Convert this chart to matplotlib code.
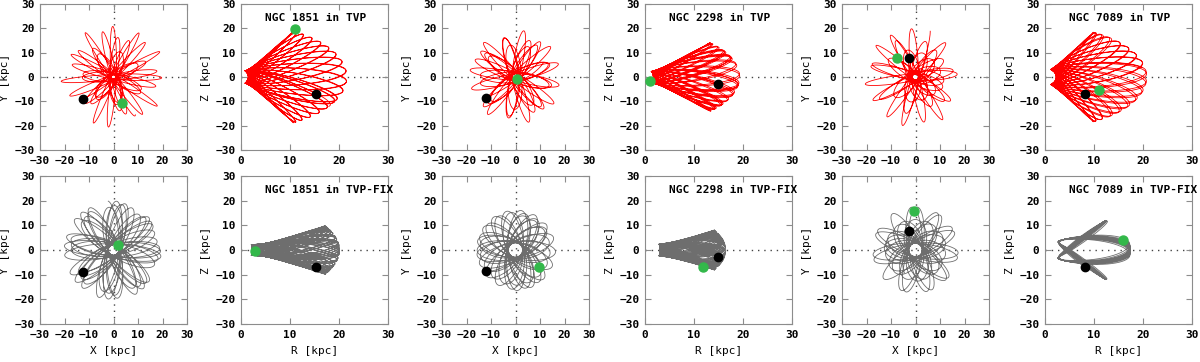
import numpy as np
import matplotlib

matplotlib.use("Agg")
from matplotlib import pyplot as plt

plt.rcParams["font.family"] = ["DejaVu Sans Mono"]
plt.rcParams["font.weight"] = "bold"

# --- data ------------------------------------------------------------------
cluster_names = ["NGC 1851", "NGC 2298", "NGC 7089"]
potentials = ["TVP", "TVP-FIX"]

# present-day positions (black dots), kpc
start_x = [-12.5, -12.2, -2.8]
start_y = [-9.0, -8.5, 7.7]
start_z = [-7.0, -2.7, -7.0]

# end of the orbit (green dots), kpc, one list per potential
end_x = {"TVP": [3.5, 0.5, -7.5], "TVP-FIX": [2.0, 9.5, -0.5]}
end_y = {"TVP": [-10.5, -0.8, 8.0], "TVP-FIX": [2.0, -7.0, 16.0]}
end_z = {"TVP": [19.8, -1.8, -5.3], "TVP-FIX": [-0.5, -7.0, 4.0]}

# orbit shape estimated from the panels
apo = {"TVP": [21.5, 19.0, 21.0], "TVP-FIX": [20.0, 16.0, 18.0]}  # kpc
peri = {"TVP": [2.5, 3.0, 2.5], "TVP-FIX": [2.5, 4.0, 3.0]}  # kpc
incl = {"TVP": [72.0, 65.0, 66.0], "TVP-FIX": [40.0, 45.0, 45.0]}  # deg
t_int = {"TVP": [10.0, 9.0, 9.0], "TVP-FIX": [12.0, 9.0, 9.0]}  # Gyr
halo_q = {"TVP": 1.0, "TVP-FIX": 0.9}  # halo flattening of each potential

line_colors = {"TVP": "#ff0000", "TVP-FIX": "#6e6e6e"}

# --- simple Galactic potential (kpc, km/s, Msun) ----------------------------
G = 4.30091e-6
MB, BB = 1.4e10, 0.5  # Plummer bulge
MD, AD, BD = 6.8e10, 3.5, 0.28  # Miyamoto-Nagai disc
V0, RC = 200.0, 12.0  # logarithmic halo
GYR = 0.9778  # one kpc/(km/s) in Gyr


def potential(x, y, z, q):
    r2 = x * x + y * y + z * z
    zeta = np.sqrt(z * z + BD**2)
    pb = -G * MB / np.sqrt(r2 + BB**2)
    pd = -G * MD / np.sqrt(x * x + y * y + (AD + zeta) ** 2)
    ph = 0.5 * V0**2 * np.log(x * x + y * y + z * z / q**2 + RC**2)
    return pb + pd + ph


def accel(x, y, z, q):
    r2 = x * x + y * y + z * z
    fb = -G * MB / (r2 + BB**2) ** 1.5
    zeta = np.sqrt(z * z + BD**2)
    fd = -G * MD / (x * x + y * y + (AD + zeta) ** 2) ** 1.5
    fh = -(V0**2) / (x * x + y * y + z * z / q**2 + RC**2)
    ax = (fb + fd + fh) * x
    ay = (fb + fd + fh) * y
    az = (fb + fh / q**2) * z + fd * z * (AD + zeta) / zeta
    return ax, ay, az


def initial_velocity(x0, y0, z0, ra, rp, inc, q):
    """Velocity at (x0,y0,z0) giving roughly the wanted apo/peri/inclination."""
    lam = np.radians(inc) / 2
    phis = lambda r: potential(r * np.cos(lam), 0.0, r * np.sin(lam), q)
    L2 = 2 * (phis(ra) - phis(rp)) / (1 / rp**2 - 1 / ra**2)
    E = phis(ra) + L2 / (2 * ra**2)
    r0 = np.sqrt(x0**2 + y0**2 + z0**2)
    R0 = np.hypot(x0, y0)
    v2 = max(2 * (E - potential(x0, y0, z0, q)), 1.0)
    vt = min(np.sqrt(L2) / r0, np.sqrt(v2))
    vphi = min(np.sqrt(L2) * np.cos(np.radians(inc)) / R0, vt)
    vlat = np.sqrt(max(vt**2 - vphi**2, 0.0))
    vr = -np.sqrt(max(v2 - vt**2, 0.0))
    ph, la = np.arctan2(y0, x0), np.arcsin(z0 / r0)
    e_r = np.array([x0, y0, z0]) / r0
    e_ph = np.array([-np.sin(ph), np.cos(ph), 0.0])
    e_la = np.array([-np.sin(la) * np.cos(ph), -np.sin(la) * np.sin(ph), np.cos(la)])
    return vr * e_r + vphi * e_ph + vlat * e_la


# set up all six orbits and integrate them together (leapfrog)
keys = [(p, c) for p in potentials for c in range(3)]
qs = np.array([halo_q[p] for p, c in keys])
pos = np.array([[start_x[c], start_y[c], start_z[c]] for p, c in keys]).T
vel = np.array(
    [
        initial_velocity(start_x[c], start_y[c], start_z[c], apo[p][c], peri[p][c],
                         incl[p][c], halo_q[p])
        for p, c in keys
    ]
).T
nsteps = np.array([t_int[p][c] / GYR for p, c in keys])
dt = 2e-4
nmax = int(nsteps.max() / dt)
every = 3
track = np.empty((nmax // every + 1, 3, len(keys)))
track[0] = pos
x, y, z = pos.copy()
vx, vy, vz = vel.copy()
a = accel(x, y, z, qs)
for i in range(1, nmax + 1):
    vx += 0.5 * dt * a[0]
    vy += 0.5 * dt * a[1]
    vz += 0.5 * dt * a[2]
    x += dt * vx
    y += dt * vy
    z += dt * vz
    a = accel(x, y, z, qs)
    vx += 0.5 * dt * a[0]
    vy += 0.5 * dt * a[1]
    vz += 0.5 * dt * a[2]
    if i % every == 0:
        track[i // every] = (x, y, z)

orbits = {}
for k, (p, c) in enumerate(keys):
    n = int(nsteps[k] / dt) // every + 1
    orbits[(p, c)] = track[:n, :, k]

# --- figure -------------------------------------------------------------------
fig = plt.figure(figsize=(12, 3.62), dpi=100)
col_left = [40, 241, 442, 645, 842, 1045]
row_box = {"TVP": (150, 146), "TVP-FIX": (324, 148)}
border = "#8c8c8c"
fs = 8

for p in potentials:
    bottom_px, h_px = row_box[p]
    for c in range(3):
        orb = orbits[(p, c)]
        sx, sy, sz = start_x[c], start_y[c], start_z[c]
        ex, ey, ez = end_x[p][c], end_y[p][c], end_z[p][c]
        for j, kind in enumerate(["xy", "rz"]):
            left = col_left[2 * c + j]
            ax = fig.add_axes([left / 1200, (362 - bottom_px) / 362, 147 / 1200, h_px / 362])
            if kind == "xy":
                ax.plot(orb[:, 0], orb[:, 1], color=line_colors[p], lw=0.6, zorder=2)
                ax.plot(sx, sy, "o", color="black", ms=6, zorder=4)
                ax.plot(ex, ey, "o", color="#33b84a", ms=6.5, zorder=4)
                ax.axvline(0, color="#444444", lw=1, ls=(0, (1, 3.5)), zorder=1)
                ax.set_xlim(-30, 30)
                ax.set_xticks([-30, -20, -10, 0, 10, 20, 30])
                ax.set_ylabel("Y [kpc]", fontsize=fs, labelpad=3)
                xlabel = "X [kpc]"
            else:
                ax.plot(np.hypot(orb[:, 0], orb[:, 1]), orb[:, 2], color=line_colors[p], lw=0.6, zorder=2)
                ax.plot(np.hypot(sx, sy), sz, "o", color="black", ms=6, zorder=4)
                ax.plot(np.hypot(ex, ey), ez, "o", color="#33b84a", ms=6.5, zorder=4)
                ax.set_xlim(0, 30)
                ax.set_xticks([0, 10, 20, 30])
                ax.set_ylabel("Z [kpc]", fontsize=fs, labelpad=3)
                ax.text(0.16, 0.905, f"{cluster_names[c]} in {p}", transform=ax.transAxes,
                        fontsize=fs, ha="left", va="center")
                xlabel = "R [kpc]"
            ax.axhline(0, color="#444444", lw=1, ls=(0, (1, 3.5)), zorder=1)
            ax.set_ylim(-30, 30)
            ax.set_yticks([-30, -20, -10, 0, 10, 20, 30])
            if p == "TVP-FIX":
                ax.set_xlabel(xlabel, fontsize=fs, labelpad=5)
            ax.tick_params(direction="in", length=4, width=0.8, color=border,
                           top=True, right=True, labelsize=fs, pad=4)
            for s in ax.spines.values():
                s.set_color(border)
                s.set_linewidth(0.8)

fig.savefig("out.png", dpi=100)
